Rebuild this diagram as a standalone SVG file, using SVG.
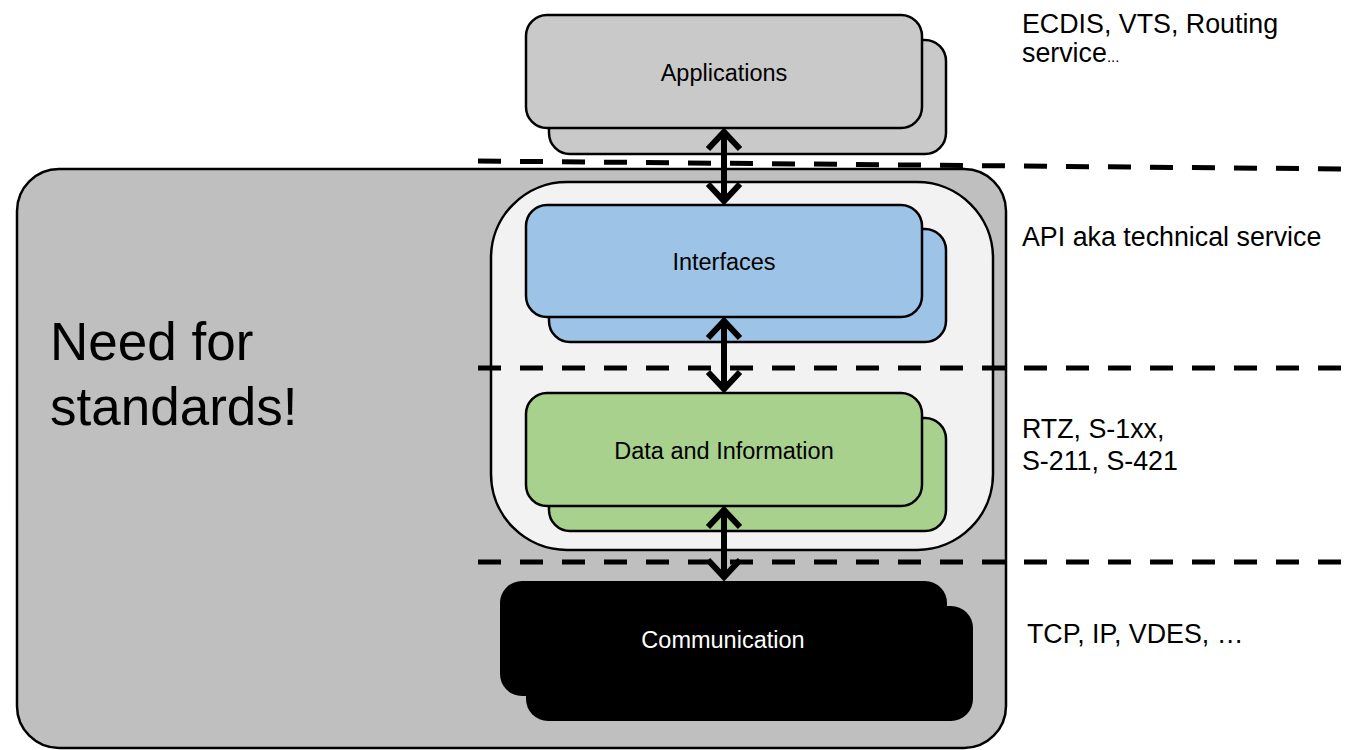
<svg xmlns="http://www.w3.org/2000/svg" width="1356" height="750" viewBox="0 0 1356 750">
  <style>
    text { font-family: "Liberation Sans", Arial, sans-serif; fill: #000; }
    .lbl { font-size: 23.5px; text-anchor: middle; }
    .note { font-size: 26.8px; }
    .big { font-size: 53px; }
    .layer { stroke: #000; stroke-width: 2.5; }
    .dash { stroke: #000; stroke-width: 5; stroke-dasharray: 23 19; fill: none; }
    .shaft { stroke: #000; stroke-width: 6; fill: none; }
    .head { stroke: #000; stroke-width: 6; fill: none; stroke-linejoin: miter; stroke-miterlimit: 10; }
  </style>

  <!-- container: standardisation scope -->
  <g id="standards-area">
    <rect x="17" y="169" width="989" height="579" rx="42" fill="#bfbfbf" stroke="#000" stroke-width="2.5"/>
    <text class="big" x="50" y="360">Need for</text>
    <text class="big" x="50" y="425">standards!</text>
  </g>

  <g id="service-panel">
    <rect x="491" y="182" width="502" height="368" rx="76" fill="#f2f2f2" stroke="#000" stroke-width="2.5"/>
  </g>

  <!-- layer boundaries -->
  <g id="boundaries">
    <line class="dash" x1="478" y1="161" x2="1345" y2="169"/>
    <line class="dash" x1="478" y1="368" x2="1345" y2="368"/>
    <line class="dash" x1="478" y1="562" x2="1345" y2="562"/>
  </g>

  <g id="applications">
    <rect class="layer" x="549" y="40" width="397" height="114" rx="21" fill="#c9c9c9"/>
    <rect class="layer" x="526" y="15" width="396" height="113" rx="21" fill="#c9c9c9"/>
    <text class="lbl" x="724" y="81">Applications</text>
  </g>

  <g id="interfaces">
    <rect class="layer" x="549" y="229" width="397" height="113" rx="21" fill="#9dc3e6"/>
    <rect class="layer" x="526" y="205" width="396" height="112" rx="21" fill="#9dc3e6"/>
    <text class="lbl" x="724" y="270">Interfaces</text>
  </g>

  <g id="data-information">
    <rect class="layer" x="549" y="418" width="397" height="113" rx="21" fill="#a9d18e"/>
    <rect class="layer" x="526" y="393" width="396" height="113" rx="21" fill="#a9d18e"/>
    <text class="lbl" x="724" y="459">Data and Information</text>
  </g>

  <g id="communication">
    <rect x="526" y="606" width="447" height="115" rx="22" fill="#000"/>
    <rect x="500" y="581" width="447" height="115" rx="22" fill="#000"/>
    <text class="lbl" x="723" y="648" style="fill:#fff">Communication</text>
  </g>

  <!-- two-way links between layers -->
  <g id="connectors">
    <line class="shaft" x1="724" y1="134" x2="724" y2="199"/>
    <polyline class="head" points="708,149 724,132 740,149"/>
    <polyline class="head" points="708,184 724,201 740,184"/>

    <line class="shaft" x1="724" y1="323" x2="724" y2="387"/>
    <polyline class="head" points="708,338 724,321 740,338"/>
    <polyline class="head" points="708,372 724,389 740,372"/>

    <line class="shaft" x1="724" y1="512" x2="724" y2="575"/>
    <polyline class="head" points="708,527 724,510 740,527"/>
    <polyline class="head" points="708,560 724,577 740,560"/>
  </g>

  <!-- examples per layer -->
  <g id="notes">
    <text class="note" x="1022" y="33">ECDIS, VTS, Routing</text>
    <text class="note" x="1022" y="62">service<tspan style="font-size:15px">...</tspan></text>
    <text class="note" x="1022" y="246">API aka technical service</text>
    <text class="note" x="1022" y="438">RTZ, S-1xx,</text>
    <text class="note" x="1022" y="470">S-211, S-421</text>
    <text class="note" x="1027" y="643">TCP, IP, VDES, …</text>
  </g>
</svg>
